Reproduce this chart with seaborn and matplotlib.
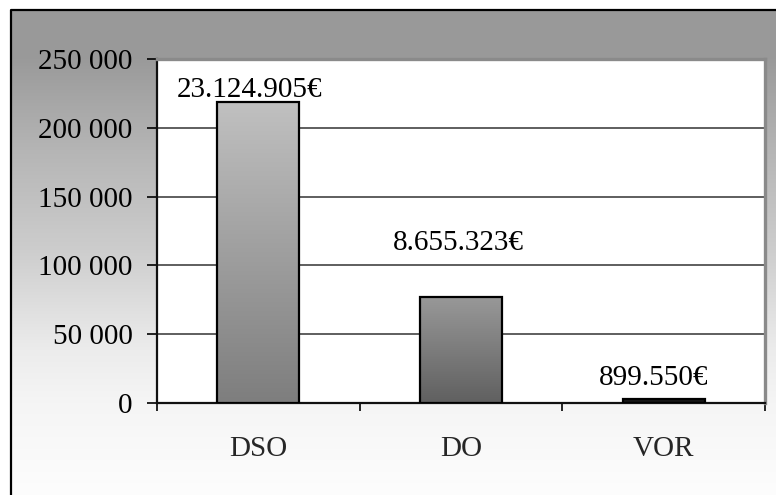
import numpy as np
import matplotlib
matplotlib.use("Agg")
import matplotlib.pyplot as plt
import seaborn as sns

# ---- data ----
categories = ["DSO", "DO", "VOR"]
values = [218700, 77000, 2800]
value_labels = ["23.124.905€", "8.655.323€", "899.550€"]
yticks = [0, 50000, 100000, 150000, 200000, 250000]

# ---- style ----
sns.set_style("white")
plt.rcParams["font.family"] = ["Liberation Serif", "DejaVu Serif"]
FS = 21

W, H = 776, 495
fig = plt.figure(figsize=(W / 100, H / 100), dpi=100)
fig.patch.set_facecolor("white")

# background gradient panel with frame
bg = fig.add_axes([0, 0, 1, 1], zorder=-10)
bg.set_xlim(0, W)
bg.set_ylim(H, 0)
bg.axis("off")
ys = np.arange(10, H + 1)
ctrl_y = [10, 59, 150, 250, 350, 403, 495]
ctrl_v = [0x99, 0x9a, 0xb5, 0xcd, 0xec, 0xf5, 0xfd]
g = np.interp(ys, ctrl_y, ctrl_v) / 255.0
grad = np.repeat(g[:, None], 3, axis=1)[:, None, :]
bg.imshow(grad, extent=[11, W, H, 10], aspect="auto", interpolation="bilinear")
bg.plot([11, 11, W], [H, 10, 10], color="black", lw=1.6, solid_capstyle="butt")
bg.set_xlim(0, W)
bg.set_ylim(H, 0)

# main axes
ax = fig.add_axes([157 / W, (H - 403) / H, 608 / W, 344 / H])
ax.set_facecolor("white")
sns.barplot(x=categories, y=values, width=0.405, color="#999999",
            edgecolor="black", linewidth=1.6, ax=ax, zorder=3)

ax.set_ylim(0, 250000)
ax.set_xlim(-0.5, 2.5)

# gradient fills for bars
bar_cols = [(0xc0, 0x7e), (0x98, 0x60), (0x20, 0x10)]
for patch, (ctop, cbot) in zip(ax.patches, bar_cols):
    x0, y0 = patch.get_x(), patch.get_y()
    w, h = patch.get_width(), patch.get_height()
    col = np.linspace(ctop, cbot, 100) / 255.0
    img = np.repeat(col[:, None], 3, axis=1)[:, None, :]
    im = ax.imshow(img, extent=[x0, x0 + w, y0, y0 + h], aspect="auto",
                   interpolation="bilinear", zorder=2.9)
    im.set_clip_path(patch)
    patch.set_facecolor("none")

ax.set_ylim(0, 250000)
ax.set_xlim(-0.5, 2.5)

# grid (interior lines only)
ax.yaxis.grid(False)
ax.xaxis.grid(False)
for v in yticks[1:-1]:
    ax.axhline(v, color="#333333", lw=1.1, zorder=1)

# ticks
ax.set_yticks(yticks)
ax.set_yticklabels([f"{v:,}".replace(",", " ") for v in yticks], fontsize=FS)
ax.tick_params(axis="y", direction="out", length=7.2, width=1.2, pad=10.5,
               colors="black", left=True)
ax.set_xticks(range(len(categories)))
ax.set_xticklabels(categories, fontsize=FS)
ax.tick_params(axis="x", which="major", length=0, pad=24)
ax.set_xticks([-0.5, 0.5, 1.5, 2.5], minor=True)
ax.tick_params(axis="x", which="minor", direction="out", length=6, width=1.2,
               colors="black", bottom=True)
ax.set_xlabel("")
ax.set_ylabel("")

# spines
for s in ["left", "bottom"]:
    ax.spines[s].set_color("#111111")
    ax.spines[s].set_linewidth(1.6)
    ax.spines[s].set_visible(True)
for s in ["top", "right"]:
    ax.spines[s].set_color("#8a8a8a")
    ax.spines[s].set_linewidth(2.4)
    ax.spines[s].set_visible(True)

# value labels
label_offsets = [(-6, 4), (-2, 34), (-7, 10)]
for i, (v, lab) in enumerate(zip(values, value_labels)):
    dx, dy = label_offsets[i]
    ax.annotate(lab, xy=(i, v), xytext=(dx, dy), textcoords="offset points",
                ha="center", va="baseline", fontsize=FS, color="black",
                annotation_clip=False, zorder=5)

fig.savefig("out.png", dpi=100)
